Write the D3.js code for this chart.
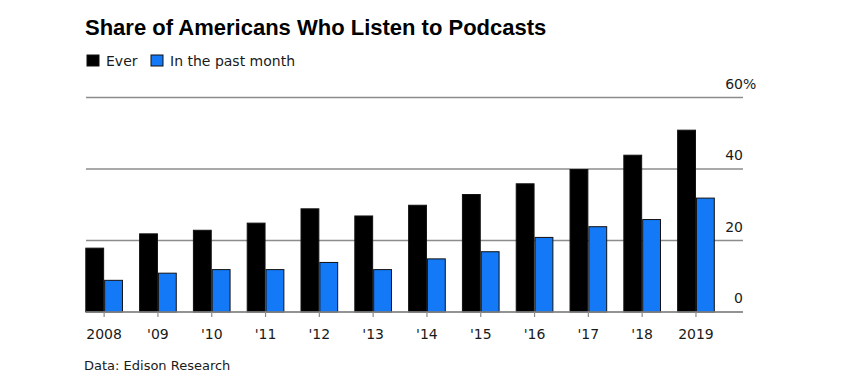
<!DOCTYPE html>
<html>
<head>
<meta charset="utf-8">
<script src="https://cdn.jsdelivr.net/npm/d3@7"></script>
<style>
  html, body { margin: 0; padding: 0; background: #fff; }
  svg { display: block; font-family: "DejaVu Sans", "Liberation Sans", Arial, sans-serif; }
</style>
</head>
<body>
<svg id="chart" width="867" height="388"></svg>
<script>
const years = ["2008", "'09", "'10", "'11", "'12", "'13", "'14", "'15", "'16", "'17", "'18", "2019"];
const everValues = [18, 22, 23, 25, 29, 27, 30, 33, 36, 40, 44, 51];
const monthValues = [9, 11, 12, 12, 14, 12, 15, 17, 21, 24, 26, 32];
const seriesNames = ["Ever", "In the past month"];
const seriesColors = ["#000000", "#1479f6"];
const yTicks = [0, 20, 40, 60];

const svg = d3.select("#chart");

const x = d3.scaleBand().domain(years).range([85.3, 714.8]).paddingInner(0.3).paddingOuter(0);
const sub = d3.scaleBand().domain(seriesNames).range([0, x.bandwidth()]);
const y = d3.scaleLinear().domain([0, 60]).range([312, 97.5]);

const gridLeft = 86, gridRight = 743;

// gridlines
svg.append("g").selectAll("line").data(yTicks).join("line")
  .attr("x1", gridLeft).attr("x2", gridRight)
  .attr("y1", d => y(d)).attr("y2", d => y(d))
  .attr("stroke", "#8c8c8c").attr("stroke-width", 1.5);

// y labels
const yl = svg.append("g");
yTicks.forEach(t => {
  yl.append("text").attr("x", gridRight).attr("y", y(t) - 9)
    .attr("text-anchor", "end").attr("font-size", 14).attr("fill", "#1a1a1a").text(t);
  if (t === 60) {
    yl.append("text").attr("x", gridRight).attr("y", y(t) - 9)
      .attr("text-anchor", "start").attr("font-size", 14).attr("fill", "#1a1a1a").text("%");
  }
});

// bars
const data = years.map((yr, i) => ({ yr, vals: [everValues[i], monthValues[i]] }));
const groups = svg.append("g").selectAll("g").data(data).join("g")
  .attr("transform", d => `translate(${x(d.yr)},0)`);
groups.selectAll("rect").data(d => d.vals.map((v, j) => ({ v, s: seriesNames[j], c: seriesColors[j] }))).join("rect")
  .attr("x", d => sub(d.s) + 0.5)
  .attr("width", sub.bandwidth() - 1)
  .attr("y", d => y(d.v) + 0.5)
  .attr("height", d => y(0) - y(d.v) - 0.5)
  .attr("fill", d => d.c)
  .attr("stroke", "#111").attr("stroke-width", 1);

// baseline redraw
svg.append("line").attr("x1", gridLeft).attr("x2", gridRight)
  .attr("y1", y(0)).attr("y2", y(0)).attr("stroke", "#8c8c8c").attr("stroke-width", 1.5);

// x axis ticks and labels
const xa = svg.append("g");
xa.selectAll("line").data(years).join("line")
  .attr("x1", d => x(d) + x.bandwidth() / 2).attr("x2", d => x(d) + x.bandwidth() / 2)
  .attr("y1", y(0)).attr("y2", y(0) + 5)
  .attr("stroke", "#8c8c8c").attr("stroke-width", 1.2);
xa.selectAll("text").data(years).join("text")
  .attr("x", d => x(d) + x.bandwidth() / 2).attr("y", 339)
  .attr("text-anchor", "middle").attr("font-size", 14).attr("fill", "#1a1a1a")
  .text(d => d);

// title
svg.append("text").attr("x", 85).attr("y", 35)
  .attr("font-family", "'Liberation Sans', Arial, sans-serif")
  .attr("font-size", 22).attr("font-weight", "bold").attr("fill", "#000")
  .text("Share of Americans Who Listen to Podcasts");

// legend
const legendX = [87, 151];
const lg = svg.append("g");
seriesNames.forEach((name, i) => {
  lg.append("rect").attr("x", legendX[i]).attr("y", 55).attr("width", 12).attr("height", 11)
    .attr("fill", seriesColors[i]).attr("stroke", "#111").attr("stroke-width", 1);
  lg.append("text").attr("x", legendX[i] + 19).attr("y", 66)
    .attr("font-size", 14).attr("fill", "#1a1a1a").text(name);
});

// source
svg.append("text").attr("x", 84).attr("y", 370)
  .attr("font-size", 13).attr("fill", "#1a1a1a").text("Data: Edison Research");
</script>
</body>
</html>
